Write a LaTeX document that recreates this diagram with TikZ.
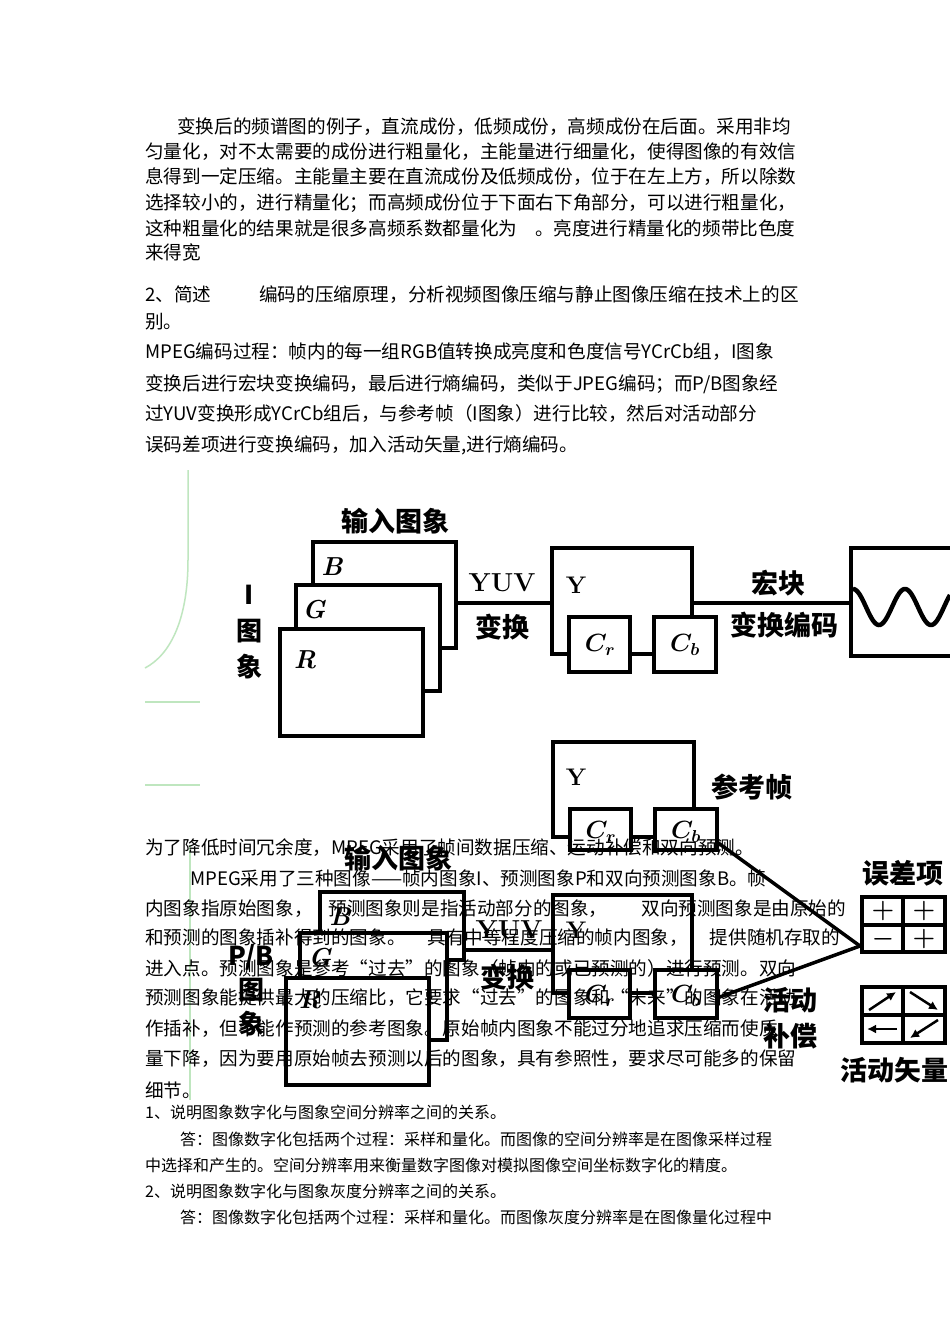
\documentclass[tikz,border=0pt]{standalone}
\usepackage{fontspec}
\newfontfamily\cjk{Noto Sans CJK SC}
\usetikzlibrary{arrows.meta}
\begin{document}
\begin{tikzpicture}[x=1pt,y=-1pt,
  body/.style={anchor=west,inner sep=0pt,font=\cjk\fontsize{18.6}{20}\selectfont},
  small/.style={anchor=west,inner sep=0pt,font=\cjk\fontsize{16}{18}\selectfont},
  lab/.style={inner sep=0pt,font=\cjk\bfseries\fontsize{27}{28}\selectfont},
  letter/.style={inner sep=0pt,font=\boldmath\bfseries\itshape\fontsize{26}{26}\selectfont},
  bx/.style={draw=black,line width=4.5pt,fill=white},
  ln/.style={draw=black,line width=4.5pt},
  faint/.style={draw=green!60!black!25,line width=1.5pt}]
\useasboundingbox[fill=white] (0,0) rectangle (950,1344);
% faint green lines
\draw[faint] (188,470) -- (188,560) .. controls (188,620) and (170,655) .. (145,668);
\draw[faint] (145,702) -- (200,702);
\draw[faint] (145,785) -- (200,785);
\draw[faint] (190,845) -- (190,1100);
% top text
\node[body] (t1) at (177,127) {变换后的频谱图的例子，直流成份，低频成份，高频成份在后面。采用非均};
\node[body] (t2) at (145,152) {匀量化，对不太需要的成份进行粗量化，主能量进行细量化，使得图像的有效信};
\node[body] (t3) at (145,177) {息得到一定压缩。主能量主要在直流成份及低频成份，位于在左上方，所以除数};
\node[body] (t4) at (145,203) {选择较小的，进行精量化；而高频成份位于下面右下角部分，可以进行粗量化，};
\node[body] (t5) at (145,228) {这种粗量化的结果就是很多高频系数都量化为\hspace{18pt}。亮度进行精量化的频带比色度};
\node[body] (t6) at (145,252) {来得宽};
\node[body] (t7) at (145,295) {2、简述\hspace{48pt}编码的压缩原理，分析视频图像压缩与静止图像压缩在技术上的区};
\node[body] (t8) at (145,322) {别。};
\node[body] (t9) at (145,352) {MPEG编码过程：帧内的每一组RGB值转换成亮度和色度信号YCrCb组，I图象};
\node[body] (t10) at (145,384) {变换后进行宏块变换编码，最后进行熵编码，类似于JPEG编码；而P/B图象经};
\node[body] (t11) at (145,414) {过YUV变换形成YCrCb组后，与参考帧（I图象）进行比较，然后对活动部分};
\node[body] (t12) at (145,445) {误码差项进行变换编码，加入活动矢量,进行熵编码。};
% ---- I-frame diagram
\node[lab] (in1) at (395,521) {输入图象};
\draw[bx] (313,542) rectangle (456,648);
\draw[bx] (296,585) rectangle (440,691);
\draw[bx] (280,629) rectangle (423,736);
\node[letter] (lB) at (332,567) {B};
\node[letter] (lG) at (314,610) {G};
\node[letter] (lR) at (305,660) {R};
\node[lab,align=center,font=\cjk\bfseries\fontsize{26}{36}\selectfont] (iimg) at (249,632) {I\\图\\象};
\coordinate (c1a) at (456,603);
\draw[bx,fill=none] (552,548) rectangle (692,654);
\node[letter,font=\bfseries\fontsize{24}{24}\selectfont] (y1) at (576,585) {Y};
\draw[ln] (c1a) -- (552,603);
\node[lab,font=\bfseries\fontsize{26}{26}\selectfont] (yuv1) at (502,583) {YUV};
\node[lab] (bh1) at (502,627) {变换};
\draw[bx] (569,617) rectangle (630,672);
\draw[bx] (654,617) rectangle (716,672);
\node[letter] (cr1) at (600,645) {$C_r$};
\node[letter] (cb1) at (685,645) {$C_b$};
\draw[ln] (692,603) -- (851,603);
\node[lab] (hk) at (778,583) {宏块};
\node[lab] (bhbm) at (784,625) {变换编码};
\draw[ln] (960,548) -- (851,548) -- (851,656) -- (960,656);
\draw[line width=4.5pt,shift={(853,0)}] plot[domain=0:97,samples=80] (\x,{607-18*cos(6.923*\x)});
% ---- reference frame
\draw[bx,fill=none] (553,742) rectangle (694,837);
\node[letter,font=\bfseries\fontsize{24}{24}\selectfont] (y2) at (576,777) {Y};
\node[lab] (ckz) at (752,787) {参考帧};
\draw[bx] (570,809) rectangle (631,850);
\draw[bx] (655,809) rectangle (717,850);
\node[letter] (cr2) at (601,832) {$C_r$};
\node[letter] (cb2) at (686,832) {$C_b$};
% ---- P/B diagram
\node[lab] (in2) at (398,858) {输入图象};
\draw[bx] (320,892) rectangle (464,960);
\draw[bx] (300,933) rectangle (447,1040);
\draw[bx] (286,978) rectangle (429,1085);
\node[letter] (lB2) at (340,917) {B};
\node[letter] (lG2) at (320,958) {G};
\node[letter] (lR2) at (310,1000) {R};
\node[lab,align=center,font=\cjk\bfseries\fontsize{26}{34}\selectfont] (pbimg) at (251,990) {P/B\\图\\象};
\draw[ln] (464,950) -- (553,950);
\node[lab,font=\bfseries\fontsize{26}{26}\selectfont] (yuv2) at (509,930) {YUV};
\node[lab] (bh2) at (507,977) {变换};
\draw[bx,fill=none] (553,895) rectangle (692,993);
\node[letter,font=\bfseries\fontsize{24}{24}\selectfont] (y3) at (576,930) {Y};
\draw[bx] (569,970) rectangle (630,1018);
\draw[bx] (655,970) rectangle (717,1018);
\node[letter] (cr3) at (600,996) {$C_r$};
\node[letter] (cb3) at (686,996) {$C_b$};
\node[lab,align=center,font=\cjk\bfseries\fontsize{27}{36}\selectfont] (hdbc) at (790,1018) {活动\\补偿};
% convergence
\coordinate (conv) at (860,946);
\draw[line width=3.5pt] (717,842) -- (conv);
\draw[line width=3.5pt] (717,998) -- (conv);
\node[lab] (wcx) at (903,873) {误差项};
\draw[ln] (862,897) rectangle (945,952);
\draw[ln] (903,897) -- (903,952);
\draw[ln] (862,925) -- (945,925);
\node[lab,font=\bfseries\fontsize{26}{24}\selectfont] (p1) at (883,911) {+};
\node[lab,font=\bfseries\fontsize{26}{24}\selectfont] (p2) at (924,911) {+};
\node[lab,font=\boldmath\fontsize{26}{24}\selectfont] (m3) at (883,939) {$-$};
\node[lab,font=\bfseries\fontsize{26}{24}\selectfont] (p4) at (924,939) {+};
\draw[ln] (862,987) rectangle (945,1043);
\draw[ln] (903,987) -- (903,1043);
\draw[ln] (862,1015) -- (945,1015);
\draw[line width=2.5pt,-{Latex[length=9pt,width=9pt]}] (869,1010) -- (896,992);
\draw[line width=2.5pt,-{Latex[length=9pt,width=9pt]}] (910,992) -- (938,1010);
\draw[line width=2.5pt,-{Latex[length=9pt,width=9pt]}] (897,1029) -- (867,1029);
\draw[line width=2.5pt,-{Latex[length=9pt,width=9pt]}] (938,1020) -- (910,1038);
\node[lab,anchor=west] (hdsl) at (840,1070) {活动矢量};
% overlay text
\node[body] (o1) at (145,848) {为了降低时间冗余度，MPEG采用了帧间数据压缩、运动补偿和双向预测。};
\node[body] (o2) at (190,878) {MPEG采用了三种图像——帧内图象I、预测图象P和双向预测图象B。帧};
\node[body] (o3) at (145,909) {内图象指原始图象，\hspace{16pt}预测图象则是指活动部分的图象，\hspace{34pt}双向预测图象是由原始的};
\node[body] (o4) at (145,938) {和预测的图象插补得到的图象。\hspace{22pt}具有中等程度压缩的帧内图象，\hspace{22pt}提供随机存取的};
\node[body] (o5) at (145,968) {进入点。预测图象是参考“过去”的图象（帧内的或已预测的）进行预测。双向};
\node[body] (o6) at (145,998) {预测图象能提供最大的压缩比，它要求“过去”的图象和“未来”的图象在活动};
\node[body] (o7) at (145,1029) {作插补，但不能作预测的参考图象。原始帧内图象不能过分地追求压缩而使质};
\node[body] (o8) at (145,1059) {量下降，因为要用原始帧去预测以后的图象，具有参照性，要求尽可能多的保留};
\node[body] (o9) at (145,1090) {细节。};
% bottom text
\node[small] (b1) at (145,1112) {1、说明图象数字化与图象空间分辨率之间的关系。};
\node[small] (b2) at (180,1139) {答：图像数字化包括两个过程：采样和量化。而图像的空间分辨率是在图像采样过程};
\node[small] (b3) at (145,1165) {中选择和产生的。空间分辨率用来衡量数字图像对模拟图像空间坐标数字化的精度。};
\node[small] (b4) at (145,1191) {2、说明图象数字化与图象灰度分辨率之间的关系。};
\node[small] (b5) at (180,1217) {答：图像数字化包括两个过程：采样和量化。而图像灰度分辨率是在图像量化过程中};
\end{tikzpicture}
\end{document}
